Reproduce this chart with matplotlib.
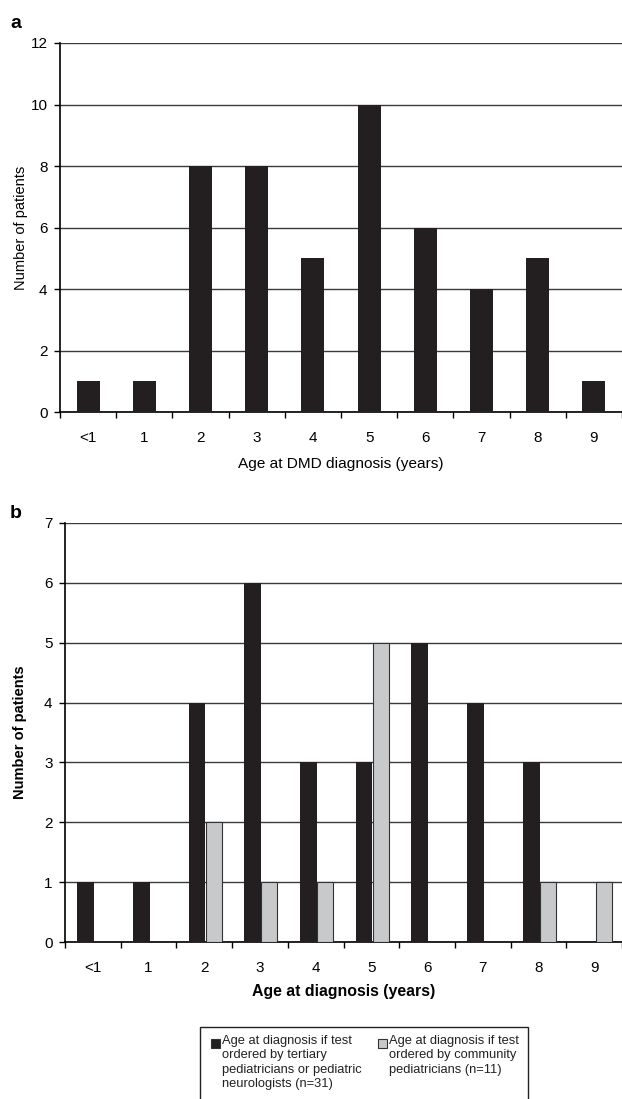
import numpy as np
import matplotlib.pyplot as plt
from matplotlib.patches import Rectangle

plt.rcParams['font.family'] = ['Liberation Sans', 'DejaVu Sans']

ages = ["<1", "1", "2", "3", "4", "5", "6", "7", "8", "9"]
all_patients = [1, 1, 8, 8, 5, 10, 6, 4, 5, 1]
tertiary = [1, 1, 4, 6, 3, 3, 5, 4, 3, 0]
community = [0, 0, 2, 1, 1, 5, 0, 0, 1, 1]

label_tertiary = "Age at diagnosis if test\nordered by tertiary\npediatricians or pediatric\nneurologists (n=31)"
label_community = "Age at diagnosis if test\nordered by community\npediatricians (n=11)"

black = "#231f20"
grey = "#c8c9cb"
W, H = 622, 1099

fig = plt.figure(figsize=(W / 100, H / 100), dpi=100)


def style_axes(ax, ymax):
    x = np.arange(len(ages))
    ax.set_xlim(-0.5, len(ages) - 0.5)
    ax.set_ylim(0, ymax)
    for s in ["top", "right"]:
        ax.spines[s].set_visible(False)
    ax.spines["left"].set_linewidth(1.2)
    ax.spines["bottom"].set_linewidth(1.2)
    ax.set_xticks(x)
    ax.set_xticklabels(ages, fontsize=11)
    ax.tick_params(axis="x", which="major", length=0, pad=14)
    ax.set_xticks(np.arange(len(ages) + 1) - 0.5, minor=True)
    ax.tick_params(axis="x", which="minor", length=4, width=1)
    ax.tick_params(axis="y", length=4, width=1, labelsize=11, pad=5)
    ax.yaxis.grid(True, color="#3a3a3a", linewidth=1)
    ax.set_axisbelow(True)


# panel a
ax1 = fig.add_axes([60 / W, 1 - 412 / H, 562 / W, 369 / H])
x = np.arange(len(ages))
ax1.bar(x, all_patients, width=0.41, color=black, zorder=3)
style_axes(ax1, 12)
ax1.set_yticks(range(0, 13, 2))
ax1.set_xlabel("Age at DMD diagnosis (years)", fontsize=11.1, labelpad=8)
ax1.set_ylabel("Number of patients", fontsize=10.5, labelpad=2)
fig.text(10 / W, 1 - 28 / H, "a", fontsize=14, fontweight="bold")

# panel b
ax2 = fig.add_axes([65 / W, 1 - 942 / H, 557 / W, 419 / H])
ax2.bar(x - 0.13, tertiary, width=0.3, color=black, zorder=3)
ax2.bar(x + 0.17, community, width=0.29, color=grey, edgecolor="#333333",
        linewidth=0.8, zorder=3)
style_axes(ax2, 7)
ax2.set_yticks(range(0, 8))
ax2.set_xlabel("Age at diagnosis (years)", fontsize=11.4, fontweight="bold", labelpad=6)
ax2.set_ylabel("Number of patients", fontsize=10.5, fontweight="bold", labelpad=12)
fig.text(10 / W, 1 - 518 / H, "b", fontsize=14, fontweight="bold")

# legend drawn by hand so markers sit on the first line
fig.add_artist(Rectangle((200 / W, 1 - 1110 / H), 328 / W, 83 / H,
                         transform=fig.transFigure, facecolor="white",
                         edgecolor="#222222", linewidth=1))
for mx, lab, col in [(211, label_tertiary, black), (378, label_community, grey)]:
    fig.add_artist(Rectangle((mx / W, 1 - 1048 / H), 9 / W, 9 / H,
                             transform=fig.transFigure, facecolor=col,
                             edgecolor="#333333", linewidth=0.8))
    fig.text((mx + 11) / W, 1 - 1035 / H, lab, fontsize=9.3, va="top",
             ha="left", linespacing=1.25, color="#222222")

plt.savefig("out.png", dpi=100)
